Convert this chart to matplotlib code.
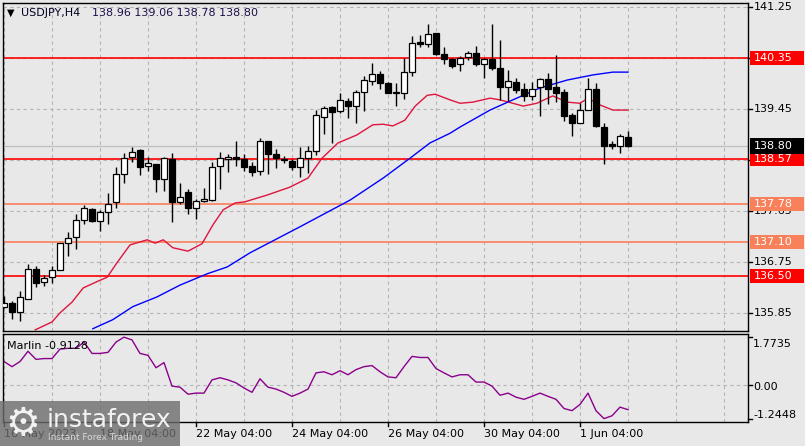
import matplotlib
matplotlib.use('Agg')
import matplotlib.pyplot as plt
from matplotlib.patches import Rectangle
from matplotlib.lines import Line2D
import matplotlib.transforms as mtransforms

plt.rcParams['font.family'] = ['DejaVu Sans']

# ---------------- data ----------------
opens = [135.96, 136.02, 135.87, 136.10, 136.62, 136.39, 136.48, 136.61, 137.08, 137.19,
         137.49, 137.68, 137.47, 137.63, 137.80, 138.31, 138.61, 138.72, 138.44, 138.47,
         138.21, 138.57, 137.81, 137.98, 137.70, 137.83, 137.84, 138.45, 138.57, 138.60,
         138.57, 138.45, 138.36, 138.88, 138.65, 138.57, 138.53, 138.43, 138.59, 138.71,
         139.31, 139.49, 139.42, 139.59, 139.51, 139.75, 139.95, 140.07, 139.91, 139.75,
         139.73, 140.10, 140.63, 140.59, 140.79, 140.42, 140.34, 140.24, 140.37, 140.43,
         140.24, 140.34, 140.18, 139.83, 139.92, 139.80, 139.68, 139.83, 139.97, 139.83,
         139.75, 139.35, 139.21, 139.44, 139.81, 139.13, 138.83, 138.80, 138.96]
highs = [136.14, 136.06, 136.24, 136.71, 136.68, 136.51, 136.68, 137.09, 137.27, 137.59,
         137.75, 137.70, 137.67, 137.96, 138.43, 138.68, 138.77, 138.74, 138.61, 138.48,
         138.60, 138.68, 138.15, 138.04, 137.86, 138.05, 138.51, 138.69, 138.65, 138.89,
         138.65, 138.52, 138.94, 138.89, 138.74, 138.62, 138.57, 138.77, 138.80, 139.43,
         139.50, 139.50, 139.74, 139.65, 139.78, 140.03, 140.26, 140.12, 139.92, 139.90,
         140.35, 140.74, 140.75, 140.95, 140.79, 140.54, 140.35, 140.39, 140.48, 140.56,
         140.35, 140.95, 140.66, 140.14, 139.99, 139.91, 139.93, 139.99, 140.09, 140.40,
         139.80, 139.38, 139.56, 139.99, 139.91, 139.20, 138.88, 139.00, 139.06]
lows = [135.93, 135.75, 135.71, 136.09, 136.30, 136.33, 136.38, 136.60, 136.86, 136.98,
        137.41, 137.45, 137.30, 137.41, 137.71, 138.15, 138.51, 138.28, 138.36, 137.99,
        138.01, 137.45, 137.77, 137.60, 137.51, 137.80, 137.82, 138.03, 138.34, 138.45,
        138.36, 138.27, 138.28, 138.30, 138.41, 138.50, 138.37, 138.25, 138.32, 138.64,
        139.00, 138.85, 139.38, 139.29, 139.21, 139.42, 139.87, 139.81, 139.73, 139.51,
        139.62, 140.04, 140.54, 140.54, 140.40, 140.25, 140.18, 140.12, 140.31, 140.21,
        139.99, 140.14, 139.61, 139.59, 139.73, 139.59, 139.61, 139.33, 139.53, 139.58,
        139.24, 138.98, 139.20, 139.43, 139.13, 138.47, 138.74, 138.68, 138.78]
closes = [136.02, 135.86, 136.13, 136.62, 136.38, 136.46, 136.60, 137.08, 137.17, 137.49,
          137.70, 137.47, 137.63, 137.78, 138.31, 138.58, 138.69, 138.43, 138.49, 138.21,
          138.58, 137.81, 137.90, 137.70, 137.83, 137.86, 138.43, 138.58, 138.60, 138.57,
          138.43, 138.34, 138.88, 138.65, 138.59, 138.54, 138.43, 138.59, 138.71, 139.34,
          139.46, 139.40, 139.61, 139.51, 139.75, 139.96, 140.07, 139.90, 139.74, 139.73,
          140.11, 140.61, 140.59, 140.77, 140.42, 140.34, 140.21, 140.35, 140.44, 140.25,
          140.34, 140.18, 139.84, 139.94, 139.78, 139.68, 139.81, 139.97, 139.80, 139.74,
          139.33, 139.21, 139.44, 139.81, 139.14, 138.80, 138.80, 138.98, 138.80]

red_ma_pos = [3.9, 6, 7, 8.5, 9.9, 11.6, 12.9, 14.1, 15.75, 17.9, 18.9, 19.9, 21.1, 23, 24.75,
              26.1, 27.4, 28.9, 30.1, 32.9, 35.75, 38, 39.75, 41.75, 44.1, 46.1, 47.4, 48.6,
              50.1, 51.4, 52.9, 53.9, 55.75, 57, 58.6, 60.75, 62, 63.6, 64.9, 66.6, 68.6,
              70.4, 72, 73, 74.5, 76.1, 78]
red_ma_val = [135.55, 135.69, 135.85, 136.04, 136.29, 136.40, 136.48, 136.73, 137.05, 137.14,
              137.08, 137.14, 137.00, 136.94, 137.07, 137.40, 137.67, 137.79, 137.81, 137.93,
              138.07, 138.23, 138.58, 138.85, 138.99, 139.17, 139.18, 139.15, 139.25, 139.50,
              139.69, 139.71, 139.61, 139.55, 139.57, 139.64, 139.61, 139.55, 139.50, 139.55,
              139.68, 139.57, 139.55, 139.64, 139.52, 139.43, 139.43]

blue_ma_pos = [11.1, 13.6, 16.1, 19.1, 22, 25.4, 27.9, 30.75, 37, 43.25, 47.4, 50.75, 53.25,
               55.75, 57, 60.75, 63.6, 67, 70.4, 73.6, 76.1, 78]
blue_ma_val = [135.57, 135.73, 135.96, 136.13, 136.34, 136.54, 136.66, 136.91, 137.37, 137.84,
               138.23, 138.58, 138.85, 139.02, 139.13, 139.43, 139.61, 139.82, 139.96, 140.05,
               140.10, 140.10]

marlin = [0.87, 0.68, 0.87, 1.25, 0.95, 0.98, 0.98, 1.33, 1.36, 1.36,
          1.59, 1.17, 1.17, 1.21, 1.59, 1.7735, 1.67, 1.17, 1.10, 0.64,
          0.83, -0.04, -0.08, -0.34, -0.30, -0.30, 0.19, 0.27, 0.19, 0.08,
          -0.11, -0.27, 0.23, -0.08, -0.15, -0.27, -0.42, -0.30, -0.15, 0.45,
          0.49, 0.38, 0.53, 0.38, 0.57, 0.68, 0.72, 0.49, 0.30, 0.27,
          0.68, 1.06, 1.02, 1.02, 0.61, 0.45, 0.30, 0.38, 0.38, 0.11,
          0.11, -0.04, -0.38, -0.30, -0.45, -0.53, -0.42, -0.30, -0.42, -0.53,
          -0.87, -0.95, -0.72, -0.30, -0.95, -1.2448, -1.14, -0.82, -0.9128]

red_levels = [140.35, 138.57, 136.50]
orange_levels = [137.78, 137.10]
current_price = 138.80
price_ticks = [141.25, 140.35, 139.45, 138.55, 137.65, 136.75, 135.85]
ind_ticks = [1.7735, 0.00, -1.2448]
ind_tick_labels = ['1.7735', '0.00', '-1.2448']
x_tick_pos = [0, 12, 24, 36, 48, 60, 72]
x_tick_labels = ['16 May 2023', '18 May 04:00', '22 May 04:00', '24 May 04:00',
                 '26 May 04:00', '30 May 04:00', '1 Jun 04:00']
title_symbol = 'USDJPY,H4'
title_ohlc = '138.96 139.06 138.78 138.80'
ind_name = 'Marlin -0.9128'

# ---------------- layout ----------------
W, H = 805, 446
BG = '#e8e8e8'
GRID = '#b4b4b4'
RED = '#ff0000'
ORANGE = '#f8805a'

def fx(px):
    return px / W

def fy(py):
    return 1 - py / H

fig = plt.figure(figsize=(8.05, 4.46), dpi=100)
fig.patch.set_facecolor(BG)

ax = fig.add_axes([fx(3), fy(331), fx(748) - fx(3), fy(3) - fy(331)])
axi = fig.add_axes([fx(3), fy(422), fx(748) - fx(3), fy(334) - fy(422)])

XMIN, XMAX = -0.125, 93.0
for a in (ax, axi):
    a.set_facecolor(BG)
    a.set_xlim(XMIN, XMAX)
    a.set_xticks([])
    a.set_yticks([])
    for s in a.spines.values():
        s.set_color('black')
        s.set_linewidth(1.0)

ax.set_ylim(135.53, 141.32)
axi.set_ylim(-1.37, 1.89)

# vertical grid
for k in range(0, 92, 6):
    ax.axvline(k, color=GRID, lw=0.8, ls=(0, (3, 3)), zorder=0)
    axi.axvline(k, color=GRID, lw=0.8, ls=(0, (3, 3)), zorder=0)
# horizontal grid
for p in price_ticks:
    ax.axhline(p, color=GRID, lw=0.8, ls=(0, (3, 3)), zorder=0)
axi.axhline(0.0, color=GRID, lw=0.8, ls=(0, (3, 3)), zorder=0)

# levels
ax.axhline(current_price, color='#c0c0c0', lw=1.0, zorder=1)
for p in red_levels:
    ax.axhline(p, color=RED, lw=1.2, zorder=1)
for p in orange_levels:
    ax.axhline(p, color=ORANGE, lw=1.2, zorder=1)

# moving averages
ax.plot(red_ma_pos, red_ma_val, color='#e0143c', lw=1.0, zorder=2)
ax.plot(blue_ma_pos, blue_ma_val, color='#0000ff', lw=1.0, zorder=2)

# candles
n = len(opens)
idx = list(range(n))
ax.vlines(idx, lows, highs, color='black', lw=1.0, zorder=3)
for i in idx:
    o, c = opens[i], closes[i]
    bottom = min(o, c)
    h = max(abs(c - o), 0.012)
    fc = 'white' if c > o else 'black'
    ax.bar(i, h, bottom=bottom, width=0.68, color=fc, edgecolor='black',
           linewidth=0.9, zorder=4)

# indicator
axi.plot(idx, marlin, color='#8b008b', lw=1.0, zorder=2)

# ---------------- texts ----------------
fig.text(fx(7), fy(13), '\u25bc', fontsize=7, color='black', va='center', ha='left')
fig.text(fx(21), fy(13), title_symbol, fontsize=8, color='#000020', va='center', ha='left')
fig.text(fx(92), fy(13), title_ohlc, fontsize=8, color='#20104a', va='center', ha='left')
fig.text(fx(7), fy(346), ind_name, fontsize=8, color='black', va='center', ha='left')

bt = mtransforms.blended_transform_factory(fig.transFigure, ax.transData)
bti = mtransforms.blended_transform_factory(fig.transFigure, axi.transData)
bx = mtransforms.blended_transform_factory(axi.transData, fig.transFigure)

px_per_unit = (331 - 3) / (141.32 - 135.53)

for p in price_ticks:
    fig.add_artist(Line2D([fx(748), fx(752)], [p, p], transform=bt, color='black', lw=1.0))
    fig.text(fx(754), p, f'{p:.2f}', transform=bt, fontsize=8, color='black',
             va='center', ha='left', zorder=5)

def level_box(price, bg, fg, hpx):
    h = hpx / px_per_unit
    fig.add_artist(Rectangle((fx(750), price - h / 2), fx(804) - fx(750), h,
                             transform=bt, facecolor=bg, edgecolor='none', zorder=6))
    fig.text(fx(754), price, f'{price:.2f}', transform=bt, fontsize=8, color=fg,
             va='center', ha='left', zorder=7)

for p in red_levels:
    level_box(p, RED, 'white', 14)
for p in orange_levels:
    level_box(p, ORANGE, 'white', 14)
level_box(current_price, 'black', 'white', 16)

for v, lab in zip(ind_ticks, ind_tick_labels):
    fig.add_artist(Line2D([fx(748), fx(752)], [v, v], transform=bti, color='black', lw=1.0))

fig.text(fx(753), fy(344), ind_tick_labels[0], fontsize=8, color='black', va='center', ha='left')
fig.text(fx(753), fy(387), ind_tick_labels[1], fontsize=8, color='black', va='center', ha='left')
fig.text(fx(753), fy(415), ind_tick_labels[2], fontsize=8, color='black', va='center', ha='left')

for pos, lab in zip(x_tick_pos, x_tick_labels):
    fig.add_artist(Line2D([pos, pos], [fy(422), fy(426)], transform=bx, color='black', lw=1.0))
    fig.text(pos, fy(434), lab, transform=bx, fontsize=8, color='black', va='center', ha='left')

# ---------------- watermark ----------------
fig.add_artist(Rectangle((fx(0), fy(446)), fx(180), fy(401) - fy(446), transform=fig.transFigure,
                         facecolor='#6c6c6c', edgecolor='none', alpha=0.8, zorder=10))
fig.text(fx(23), fy(424), '\u2699', fontsize=28, color='white', va='center', ha='center',
         zorder=11, alpha=0.9)
fig.text(fx(47), fy(420), 'instaforex', fontsize=18, color='white', va='center', ha='left',
         zorder=11, alpha=0.9)
fig.text(fx(48), fy(438), 'Instant Forex Trading', fontsize=6.5, color='#e0e0e0', va='center',
         ha='left', zorder=11, alpha=0.9)

fig.savefig('out.png', dpi=100, facecolor=BG)
